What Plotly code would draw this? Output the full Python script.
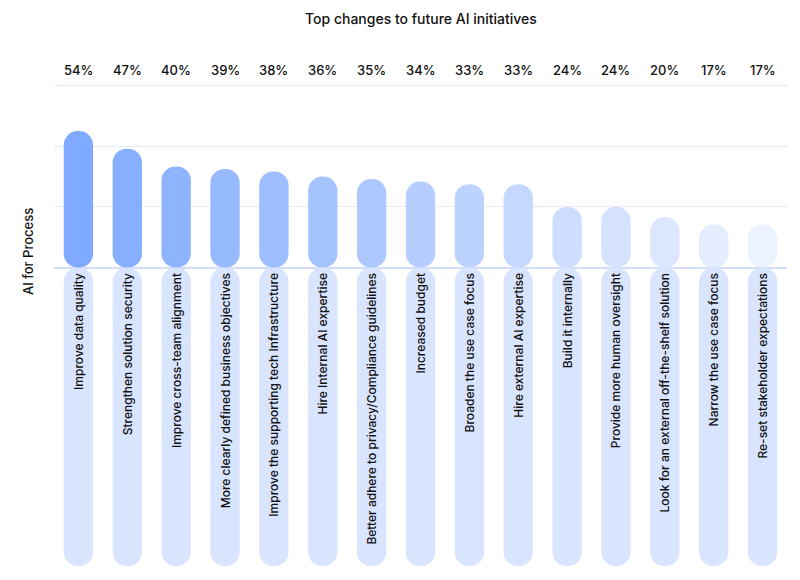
import plotly.graph_objects as go

categories = ["Improve data quality", "Strengthen solution security", "Improve cross-team alignment",
              "More clearly defined business objectives", "Improve the supporting tech Infrastructure",
              "Hire Internal AI expertise", "Better adhere to privacy/Compliance guidelines",
              "Increased budget", "Broaden the use case focus", "Hire external AI expertise",
              "Build it internally", "Provide more human oversight",
              "Look for an external off-the-shelf solution", "Narrow the use case focus",
              "Re-set stakeholder expectations"]
values = [54, 47, 40, 39, 38, 36, 35, 34, 33, 33, 24, 24, 20, 17, 17]
label_depth = 118

n = len(categories)
top_colors = []
for i in range(n):
    t = i / (n - 1)
    r = int(0x7f + (0xec - 0x7f) * t)
    g = int(0xaa + (0xf2 - 0xaa) * t)
    top_colors.append(f"rgb({r},{g},255)")

fig = go.Figure()
fig.add_trace(go.Bar(x=categories, y=[-label_depth] * n, base=0,
                     marker=dict(color="#d9e4fe", line_width=0),
                     text=categories, textposition="inside", insidetextanchor="start",
                     textangle=-90, textfont=dict(size=12, color="#111", weight=500),
                     hoverinfo="skip"))
fig.add_trace(go.Bar(x=categories, y=values, base=0,
                     marker=dict(color=top_colors, line_width=0)))

ann = []
for c, v in zip(categories, values):
    ann.append(dict(x=c, y=1.0, yref="paper", yshift=13, yanchor="middle",
                    text=f"{v}%", showarrow=False,
                    font=dict(size=13, color="#111", weight=500)))
ann.append(dict(x=0.5, xref="paper", y=1.0, yref="paper", yshift=65, yanchor="middle",
                text="Top changes to future AI initiatives", showarrow=False,
                font=dict(size=14, color="#111", weight=500)))
ann.append(dict(x=0, xref="paper", xshift=-36, y=0.65, yref="paper", textangle=-90,
                text="AI for Process", showarrow=False,
                font=dict(size=13, color="#111", weight=500)))

fig.update_layout(
    width=800, height=580, barmode="overlay", bargap=0.4, barcornerradius=15,
    showlegend=False, plot_bgcolor="white", paper_bgcolor="white",
    margin=dict(l=46, r=21, t=75, b=22),
    font=dict(family="Inter, Roboto, sans-serif"),
    annotations=ann,
    xaxis=dict(showticklabels=False, showgrid=False, zeroline=False),
    yaxis=dict(range=[-label_depth, 73], tickvals=[0, 24, 48, 72], showticklabels=False,
               gridcolor="#e6eaf6", zeroline=True, zerolinecolor="#d3ddf7", zerolinewidth=2),
)
fig.write_html("out.html")
